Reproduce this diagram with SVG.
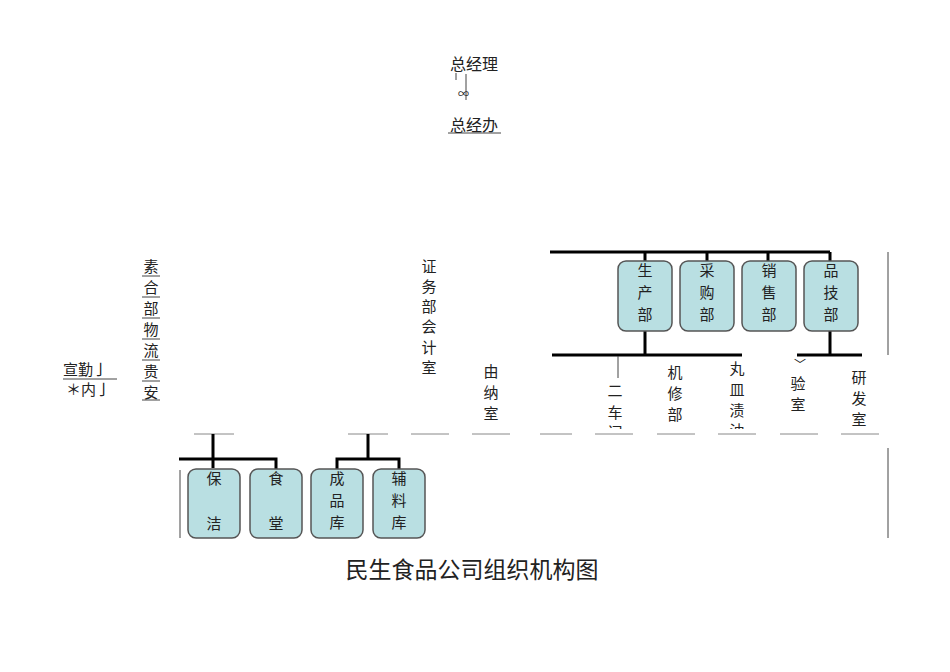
<svg xmlns="http://www.w3.org/2000/svg" width="950" height="672" viewBox="0 0 950 672">
<style>
text{font-family:"Noto Sans CJK SC",sans-serif;font-size:15px;fill:#222}
.c{text-anchor:middle}
.box{fill:#b9dfe2;stroke:#555;stroke-width:1.5}
.th{stroke:#000;stroke-width:3;fill:none}
.tn{stroke:#444;stroke-width:1;fill:none}
.ds{stroke:#888;stroke-width:1;fill:none}
</style>
<defs><clipPath id="cl"><rect x="590" y="340" width="300" height="89"/></clipPath></defs>
<rect width="950" height="672" fill="#fff"/>
<g id="connectors">
<line class="tn" x1="466" y1="74" x2="466" y2="100"/>
<line class="tn" x1="456" y1="73" x2="456" y2="80"/>
<line class="tn" x1="448" y1="133" x2="501" y2="133"/>
<line class="tn" x1="63" y1="379" x2="117" y2="379"/>
<path class="ds" d="M194 434H234M348 434H388M411 434H449M472 434H510M540 434H572M595 434H633M657 434H695M718 434H756M780 434H818M841 434H879"/>
<path class="th" d="M213 434V468M179 459H276V469M368 434V459M337 469V459H399V469"/>
<line class="tn" x1="180" y1="470" x2="180" y2="538"/>
<path class="th" d="M550 252H830M645 252V262M707 252V262M768 252V262M830 252V262"/>
<path class="th" d="M645 331V355M552 355H742M830 331V355M797 355H862"/>
<line class="tn" x1="888" y1="252" x2="888" y2="355"/>
<line class="tn" x1="888" y1="448" x2="888" y2="538"/>
<line class="tn" x1="618" y1="356" x2="618" y2="378"/>
</g>
<g id="n-top"><text x="474" y="70" class="c" style="font-size:16px">总经理</text><text x="458" y="98" style="font-size:11px">∞</text><text x="474" y="131" class="c" style="font-size:16px">总经办</text></g>
<g id="n-left"><text x="63" y="375" style="font-size:15px">宣勤亅</text><text x="66" y="395" style="font-size:15px">＊内亅</text></g>
<g id="n-col1">
<text x="151" y="272" class="c">素</text><text x="151" y="293" class="c">合</text><text x="151" y="314" class="c">部</text><text x="151" y="335" class="c">物</text><text x="151" y="356" class="c">流</text><text x="151" y="377" class="c">贵</text><text x="151" y="398" class="c">安</text>
<path class="tn" d="M142 276H160M142 297H160M142 318H160M142 339H160M142 360H160M142 381H160M142 400H160"/>
</g>
<g id="n-col2"><text x="429" y="272" class="c">证</text><text x="429" y="292" class="c">务</text><text x="429" y="312" class="c">部</text><text x="429" y="332" class="c">会</text><text x="429" y="353" class="c">计</text><text x="429" y="373" class="c">室</text></g>
<g id="n-chuna"><text x="491" y="377" class="c">由</text><text x="491" y="398" class="c">纳</text><text x="491" y="419" class="c">室</text></g>
<g id="n-baojie"><rect class="box" x="188" y="469" width="52" height="69" rx="8"/><text x="214" y="484" class="c">保</text><text x="214" y="529" class="c">洁</text></g>
<g id="n-shitang"><rect class="box" x="250" y="469" width="52" height="69" rx="8"/><text x="276" y="484" class="c">食</text><text x="276" y="529" class="c">堂</text></g>
<g id="n-chengpin"><rect class="box" x="311" y="469" width="52" height="69" rx="8"/><text x="337" y="484" class="c">成</text><text x="337" y="506" class="c">品</text><text x="337" y="528" class="c">库</text></g>
<g id="n-fuliao"><rect class="box" x="373" y="469" width="52" height="69" rx="8"/><text x="399" y="484" class="c">辅</text><text x="399" y="506" class="c">料</text><text x="399" y="528" class="c">库</text></g>
<g id="n-shengchan"><rect class="box" x="618" y="261" width="54" height="70" rx="8"/><text x="645" y="276" class="c">生</text><text x="645" y="298" class="c">产</text><text x="645" y="320" class="c">部</text></g>
<g id="n-caigou"><rect class="box" x="680" y="261" width="54" height="70" rx="8"/><text x="707" y="276" class="c">采</text><text x="707" y="298" class="c">购</text><text x="707" y="320" class="c">部</text></g>
<g id="n-xiaoshou"><rect class="box" x="742" y="261" width="54" height="70" rx="8"/><text x="769" y="276" class="c">销</text><text x="769" y="298" class="c">售</text><text x="769" y="320" class="c">部</text></g>
<g id="n-pinji"><rect class="box" x="804" y="261" width="54" height="70" rx="8"/><text x="831" y="276" class="c">品</text><text x="831" y="298" class="c">技</text><text x="831" y="320" class="c">部</text></g>
<g id="n-sub" clip-path="url(#cl)">
<text x="615" y="396" class="c">二</text><text x="615" y="418" class="c">车</text><text x="615" y="438" class="c">间</text>
<text x="675" y="378" class="c">机</text><text x="675" y="399" class="c">修</text><text x="675" y="420" class="c">部</text>
<text x="737" y="374" class="c">丸</text><text x="737" y="395" class="c">皿</text><text x="737" y="416" class="c">渍</text><text x="737" y="436" class="c">油</text>
<text x="800" y="369" class="c" style="font-size:12px">﹀</text><text x="798" y="389" class="c">验</text><text x="798" y="410" class="c">室</text>
<text x="859" y="383" class="c">研</text><text x="859" y="404" class="c">发</text><text x="859" y="425" class="c">室</text>
</g>
<text x="472" y="578" class="c" style="font-size:23px">民生食品公司组织机构图</text>
</svg>
